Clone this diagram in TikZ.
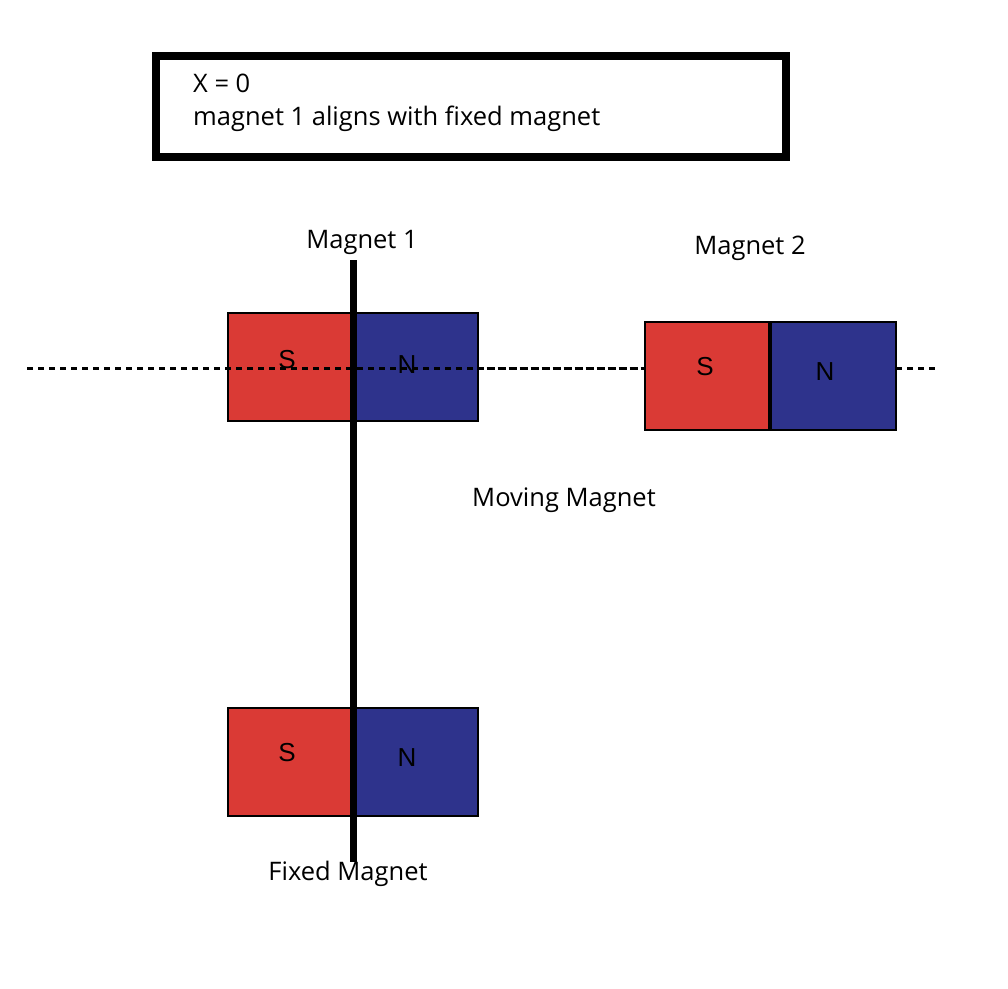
\documentclass[tikz,border=0pt]{standalone}
\usepackage{fontspec}
\setmainfont{Open Sans}
\newfontfamily\polefont{Liberation Sans}
\definecolor{sred}{HTML}{DA3A35}
\definecolor{nblue}{HTML}{2E338C}
\begin{document}
\begin{tikzpicture}[x=1pt,y=-1pt,
  lbl/.style={font=\fontsize{25.5}{30}\selectfont, inner sep=0pt},
  pole/.style={font=\polefont\fontsize{26}{30}\selectfont, inner sep=0pt},
  spole/.style={draw=black, line width=2.5pt, fill=sred},
  npole/.style={draw=black, line width=2.5pt, fill=nblue},
  axis/.style={line width=3pt, dash pattern=on 6pt off 5pt}]
\useasboundingbox (0,0) rectangle (1008,988);
% title box
\draw[line width=8pt] (156,56) rectangle (786,157);
\node[lbl, anchor=base west] (t1) at (193,92) {X = 0};
\node[lbl, anchor=base west] (t2) at (193,125) {magnet 1 aligns with fixed magnet};
% magnet 1
\draw[spole] (228,313) rectangle (353,421);
\draw[npole] (353,313) rectangle (478,421);
% fixed magnet
\draw[spole] (228,708) rectangle (353,816);
\draw[npole] (353,708) rectangle (478,816);
% magnet 2
\draw[spole] (645,322) rectangle (770,430);
\draw[npole] (770,322) rectangle (896,430);
\draw[line width=4pt] (770,322) -- (770,430);
% axis
\draw[axis] (27,368) -- (645,368);
\draw[axis, dash phase=2.5pt] (478,368) -- (645,368);
\draw[axis] (896,368) -- (935,368);
% shaft
\draw[line width=7pt] (353,260) -- (353,862);
% pole labels
\node[pole] (s1) at (287,360) {S};
\node[pole] (n1) at (407,365) {N};
\node[pole] (s2) at (705,367) {S};
\node[pole] (n2) at (825,372) {N};
\node[pole] (s3) at (287,753) {S};
\node[pole] (n3) at (407,758) {N};
% labels
\node[lbl] (m1) at (362,242) {Magnet 1};
\node[lbl] (m2) at (750,248) {Magnet 2};
\node[lbl] (mm) at (564,500) {Moving Magnet};
\node[lbl] (fm) at (348,874) {Fixed Magnet};
\end{tikzpicture}
\end{document}
